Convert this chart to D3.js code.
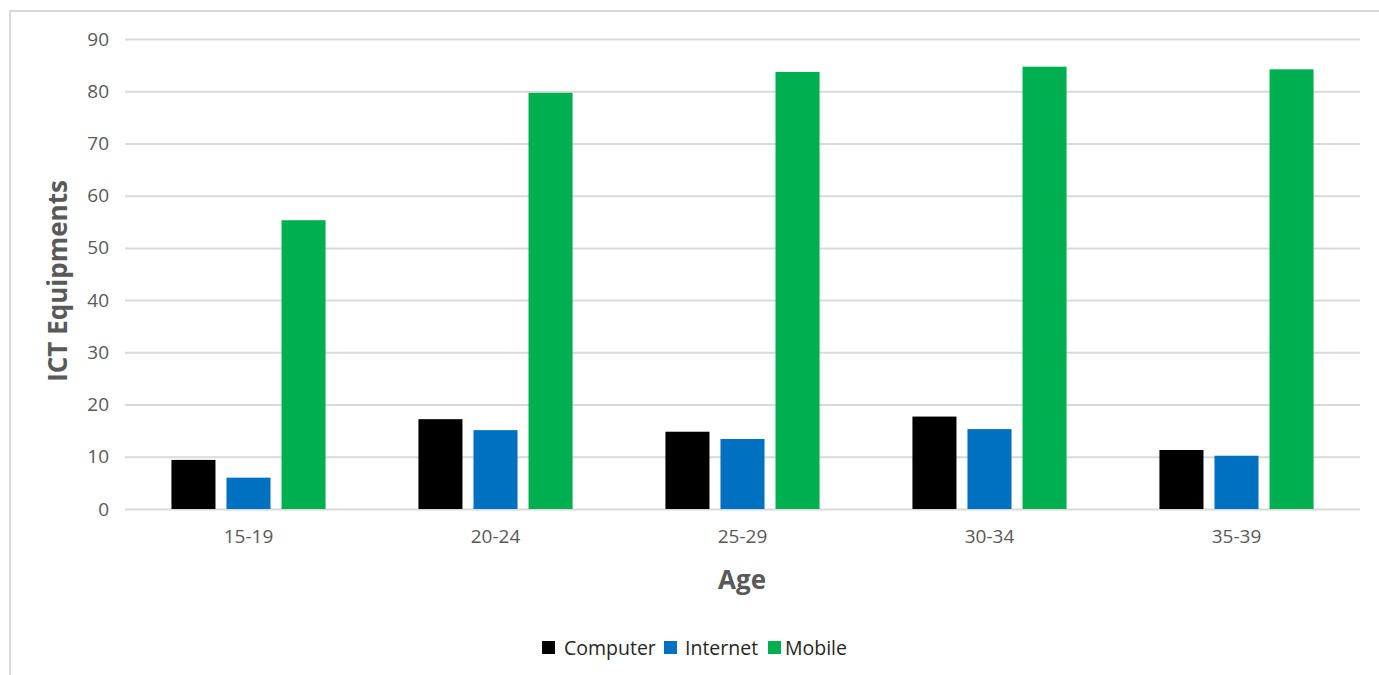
<!DOCTYPE html>
<html><head><meta charset="utf-8">
<script src="https://cdn.jsdelivr.net/npm/d3@7"></script>
<style>body{margin:0;background:#fff;} svg{display:block;}</style>
</head><body>
<svg id="chart" width="1379" height="675"></svg>
<script>
const categories = ["15-19","20-24","25-29","30-34","35-39"];
const seriesNames = ["Computer","Internet","Mobile"];
const computer = [9.4, 17.2, 14.8, 17.7, 11.3];
const internet = [6.0, 15.1, 13.4, 15.3, 10.2];
const mobile = [55.3, 79.7, 83.7, 84.7, 84.2];
const yTicks = [0,10,20,30,40,50,60,70,80,90];
const colors = ["#000000","#0070c0","#00b050"];

(function(){
const seriesValues = [computer, internet, mobile];
const svg = d3.select("#chart");
const font = "'Open Sans', 'Liberation Sans', sans-serif";

// chart border
svg.append("rect").attr("x",10).attr("y",11).attr("width",1380).attr("height",680)
  .attr("fill","none").attr("stroke","#d9d9d9").attr("stroke-width",2);

const mLeft = 125, mRight = 1360, mTop = 39, mBottom = 509;
const y = d3.scaleLinear().domain([0,90]).range([mBottom, mTop]);
const x0 = d3.scaleBand().domain(categories).range([mLeft, mRight]).paddingInner(0.376).paddingOuter(0.188);
const x1 = d3.scaleBand().domain(seriesNames).range([0, x0.bandwidth()]).paddingInner(0.2).paddingOuter(0);

// gridlines
const grid = svg.append("g").attr("transform",`translate(${mLeft},0)`)
  .call(d3.axisLeft(y).tickValues(yTicks).tickSize(-(mRight-mLeft)).tickFormat(""));
grid.select(".domain").remove();
grid.selectAll("line").attr("stroke","#d9d9d9").attr("stroke-width",2);

// y tick labels
const ya = svg.append("g").attr("transform",`translate(${mLeft},0)`)
  .call(d3.axisLeft(y).tickValues(yTicks).tickSize(0).tickPadding(16));
ya.select(".domain").remove();
ya.selectAll("text").attr("font-family",font).attr("font-size",19).attr("fill","#595959");

// x tick labels
const xa = svg.append("g").attr("transform",`translate(0,${mBottom})`)
  .call(d3.axisBottom(x0).tickSize(0).tickPadding(21));
xa.select(".domain").remove();
xa.selectAll("text").attr("font-family",font).attr("font-size",19).attr("fill","#595959");

// bars
const groups = svg.append("g").selectAll("g").data(categories).join("g")
  .attr("transform", d => `translate(${x0(d)},0)`);
groups.selectAll("rect").data((d,i) => seriesNames.map((s,j) => ({s, v: seriesValues[j][i], c: colors[j]})))
  .join("rect")
  .attr("x", d => x1(d.s)).attr("width", x1.bandwidth())
  .attr("y", d => y(d.v)).attr("height", d => y(0) - y(d.v))
  .attr("fill", d => d.c);

// axis titles
svg.append("text").attr("transform",`translate(67,281) rotate(-90)`)
  .attr("text-anchor","middle").attr("font-family",font).attr("font-size",26).attr("font-weight","bold")
  .attr("fill","#595959").text("ICT Equipments");
svg.append("text").attr("x",742).attr("y",589)
  .attr("text-anchor","middle").attr("font-family",font).attr("font-size",26).attr("font-weight","bold")
  .attr("fill","#595959").text("Age");

// legend
const legendX = [542, 664, 768];
const legendTextX = [564, 685, 785];
const lg = svg.append("g");
seriesNames.forEach((n,i) => {
  lg.append("rect").attr("x",legendX[i]).attr("y",641).attr("width",13).attr("height",13).attr("fill",colors[i]);
  lg.append("text").attr("x",legendTextX[i]).attr("y",655).attr("font-family",font).attr("font-size",19.5)
    .attr("fill","#262626").text(n);
});
})();
</script>
</body></html>
